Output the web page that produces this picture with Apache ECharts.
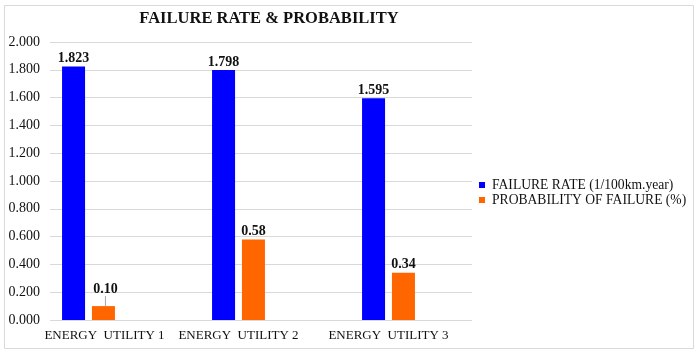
<!DOCTYPE html>
<html>
<head>
	<meta charset="utf-8">
	<title>Failure rate & probability</title>
	<script type="text/javascript" src="https://cdn.jsdelivr.net/npm/echarts@6/dist/echarts.min.js"></script>
	<style>
		body { margin: 0; background: #fff; }
	</style>
</head>
<body>
	<div id="chart" style="width: 700px; height: 354px;"></div>
	<script type="text/javascript">
	// data
	var categories = ['ENERGY  UTILITY 1', 'ENERGY  UTILITY 2', 'ENERGY  UTILITY 3'];
	var failureRate = [1.823, 1.798, 1.595];
	var probability = [0.10, 0.58, 0.34];
	var seriesNames = ['FAILURE RATE (1/100km.year)', 'PROBABILITY OF FAILURE (%)'];

	var serif = "'Liberation Serif', 'Times New Roman', serif";
	var chart = echarts.init(document.getElementById('chart'));

	// the first orange label sits a little higher, with a leader line (as in the original)
	var probData = probability.map(function (v, i) {
		return i === 0 ? { value: v, labelLine: { show: true } } : { value: v };
	});

	chart.setOption({
		animation: false,
		title: {
			text: 'FAILURE RATE & PROBABILITY',
			left: 264,
			textAlign: 'center',
			top: 5,
			textStyle: { fontFamily: serif, fontSize: 16.5, fontWeight: 'bold', color: '#111' }
		},
		legend: {
			orient: 'vertical',
			left: 474,
			top: 173,
			itemWidth: 6,
			itemHeight: 6,
			itemGap: 1,
			icon: 'rect',
			textStyle: { fontFamily: serif, fontSize: 13.6, color: '#111', padding: [0, 0, 0, 2] },
			data: seriesNames
		},
		graphic: [{
			type: 'rect',
			shape: { x: 4.5, y: 5.5, width: 689, height: 343 },
			style: { fill: 'none', stroke: '#d9d9d9', lineWidth: 1 },
			silent: true
		}],
		grid: [
			{ left: 50, right: 228, top: 42, bottom: 34 },
			{ left: 13.5, width: 450, top: 42, bottom: 34 }
		],
		xAxis: [
			{ type: 'category', gridIndex: 0, data: categories, show: false },
			{
				type: 'category', gridIndex: 1, data: categories,
				axisLine: { show: false }, axisTick: { show: false },
				axisLabel: {
					interval: 0,
					fontFamily: serif, fontSize: 13, color: '#111', margin: 9,
					formatter: function (v, i) { return i === 0 ? '{a|' + v + '}' : v; },
					rich: { a: { fontFamily: serif, fontSize: 13, color: '#111', padding: [0, 0, 0, 32] } }
				}
			}
		],
		yAxis: [
			{
				type: 'value', gridIndex: 0, min: 0, max: 2, interval: 0.2,
				axisLine: { show: false }, axisTick: { show: false },
				splitLine: { lineStyle: { color: '#d9d9d9' } },
				axisLabel: {
					fontFamily: serif, fontSize: 14, color: '#111', margin: 10,
					formatter: function (v) { return v.toFixed(3); }
				}
			},
			{ type: 'value', gridIndex: 1, min: 0, max: 2, show: false }
		],
		series: [
			{
				name: seriesNames[0], type: 'bar', xAxisIndex: 1, yAxisIndex: 1,
				data: failureRate, barWidth: 23, barGap: '30%',
				itemStyle: { color: '#0000ff' },
				label: {
					show: true, position: 'top', distance: 1,
					fontFamily: serif, fontSize: 14, fontWeight: 'bold', color: '#111',
					formatter: function (p) { return p.value.toFixed(3); }
				}
			},
			{
				name: seriesNames[1], type: 'bar', xAxisIndex: 1, yAxisIndex: 1,
				data: probData, barWidth: 23,
				itemStyle: { color: '#ff6600' },
				label: {
					show: true, position: 'top', distance: 1,
					fontFamily: serif, fontSize: 14, fontWeight: 'bold', color: '#111',
					formatter: function (p) { return p.value.toFixed(2); }
				},
				labelLine: { show: false, lineStyle: { color: '#a6a6a6', width: 1 } },
				labelLayout: function (params) {
					if (params.dataIndex === 0) return { dx: 2, dy: -9 };
				}
			}
		]
	});
	</script>
</body>
</html>
